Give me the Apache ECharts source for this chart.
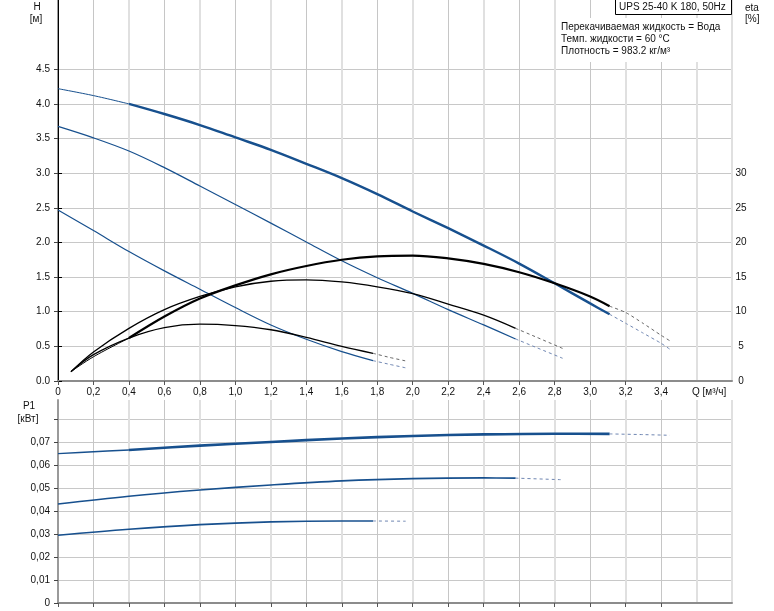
<!DOCTYPE html>
<html>
<head>
<meta charset="utf-8">
<script src="https://cdn.jsdelivr.net/npm/echarts@6/dist/echarts.min.js"></script>
<style>html,body{margin:0;padding:0;background:#fff}#c{width:774px;height:611px}</style>
</head>
<body>
<div id="c"></div>
<script>
// ---------- data ----------
const qTicks = [0,0.2,0.4,0.6,0.8,1.0,1.2,1.4,1.6,1.8,2.0,2.2,2.4,2.6,2.8,3.0,3.2,3.4];
const hTicks = [0,0.5,1.0,1.5,2.0,2.5,3.0,3.5,4.0,4.5];
const etaTicks = [0,5,10,15,20,25,30];
const pTicks = [0,0.01,0.02,0.03,0.04,0.05,0.06,0.07];

// H curves
const h3LowQ = [0,0.2,0.4];
const h3Low  = [4.22,4.12,4.0];
const h3Q = [0.4,0.6,0.8,1.0,1.2,1.4,1.6,1.8,2.0,2.2,2.4,2.6,2.8,3.0,3.11];
const h3  = [4.0,3.854,3.695,3.516,3.338,3.136,2.929,2.698,2.447,2.206,1.955,1.695,1.41,1.12,0.963];
const h3DashQ = [3.11,3.2,3.3,3.4,3.45];
const h3Dash  = [0.963,0.834,0.69,0.545,0.458];

const h2Q = [0,0.2,0.4,0.6,0.8,1.0,1.2,1.4,1.6,1.8,2.0,2.2,2.4,2.58];
const h2  = [3.675,3.51,3.32,3.08,2.815,2.548,2.279,2.006,1.735,1.49,1.265,1.03,0.81,0.607];
const h2DashQ = [2.58,2.7,2.845];
const h2Dash  = [0.607,0.48,0.328];

const h1Q = [0,0.2,0.4,0.6,0.8,1.0,1.2,1.4,1.6,1.776];
const h1  = [2.47,2.172,1.869,1.59,1.325,1.06,0.809,0.602,0.424,0.294];
const h1DashQ = [1.776,1.87,1.96];
const h1Dash  = [0.294,0.24,0.19];

// eta curves
const e3LowQ = [0.073,0.2,0.4];
const e3Low  = [1.35,3.5,6.2];
const e3Q = [0.4,0.6,0.8,1.0,1.2,1.4,1.6,1.8,2.0,2.2,2.4,2.6,2.8,3.0,3.11];
const e3  = [6.2,9.3,11.9,13.8,15.4,16.6,17.5,18.0,18.1,17.7,16.9,15.7,14.1,12.2,10.8];
const e3DashQ = [3.11,3.2,3.3,3.4,3.45];
const e3Dash  = [10.8,9.9,8.3,6.6,5.8];

const e2Q = [0.073,0.2,0.4,0.6,0.8,1.0,1.2,1.4,1.6,1.8,2.0,2.2,2.4,2.58];
const e2  = [1.35,4.2,7.6,10.3,12.2,13.6,14.4,14.6,14.3,13.6,12.6,11.1,9.5,7.6];
const e2DashQ = [2.58,2.7,2.845];
const e2Dash  = [7.6,6.3,4.7];

const e1Q = [0.073,0.2,0.4,0.6,0.8,1.0,1.2,1.4,1.6,1.776];
const e1  = [1.35,3.8,6.2,7.7,8.2,8.0,7.4,6.3,5.0,4.0];
const e1DashQ = [1.776,1.87,1.96];
const e1Dash  = [4.0,3.4,2.9];

// power curves
const p3LowQ = [0,0.2,0.4];
const p3Low  = [0.0652,0.066,0.0668];
const p3Q = [0.4,0.8,1.2,1.6,2.0,2.4,2.8,3.11];
const p3  = [0.0668,0.0687,0.0703,0.0718,0.0729,0.0736,0.0739,0.0738];
const p3DashQ = [3.11,3.3,3.45];
const p3Dash  = [0.0738,0.0735,0.0732];

const p2Q = [0,0.4,0.8,1.2,1.6,2.0,2.4,2.58];
const p2  = [0.0432,0.0466,0.0493,0.0515,0.0533,0.0543,0.0546,0.0545];
const p2DashQ = [2.58,2.845];
const p2Dash  = [0.0545,0.0538];

const p1Q = [0,0.4,0.8,1.2,1.6,1.776];
const p1  = [0.0296,0.0322,0.0342,0.0354,0.0358,0.0358];
const p1DashQ = [1.776,1.96];
const p1Dash  = [0.0358,0.0357];

// ---------- chart ----------
const pairs = (qs, vs) => qs.map((q, i) => [q, vs[i]]);
const BLUE = '#17508e', BLUE_D = '#6f86b2', BLACK = '#000', BLACK_D = '#666';
const FONT = 'Liberation Sans, Arial, sans-serif';
const FS = 10;

function line(data, opts) {
  return Object.assign({
    type: 'line', data: data, showSymbol: false, symbol: 'none', smooth: 0.35,
    silent: true, animation: false
  }, opts);
}
function solid(data, color, width, xi, yi) {
  return line(data, {xAxisIndex: xi, yAxisIndex: yi, lineStyle: {color: color, width: width}});
}
function dashed(data, color, xi, yi) {
  return line(data, {xAxisIndex: xi, yAxisIndex: yi, smooth: 0.2, lineStyle: {color: color, width: 1, type: [3, 3]}});
}

const qFmt = v => v === 0 ? '0' : (Math.round(v * 10) / 10).toFixed(1).replace('.', ',');
const labelStyle = {fontFamily: FONT, fontSize: FS, color: '#111'};

function mainX(gi, showLabels) {
  return {
    type: 'value', gridIndex: gi, min: 0, max: 3.8, interval: 0.2, position: 'bottom',
    axisLine: {show: true, onZero: false, lineStyle: {color: '#8c8c8c', width: 2}},
    axisTick: {show: true, length: 4, customValues: qTicks, lineStyle: {color: '#555'}},
    axisLabel: Object.assign({show: showLabels, margin: 6, customValues: qTicks, formatter: qFmt}, labelStyle),
    splitLine: {show: true, lineStyle: {color: ['#dedede', '#c6c6c6'], width: 1}}
  };
}
function overlayX(gi) {
  return {
    type: 'value', gridIndex: gi, min: 0, max: 3.8, interval: 0.4, position: 'top',
    axisLine: {show: false}, axisTick: {show: false}, axisLabel: {show: false},
    splitLine: {show: true, lineStyle: {color: '#e0e0e0', width: 2}}
  };
}
const T = (x, y, text, align) => ({type: 'text', z: 102, x: x, y: y,
  style: {text: text, font: FS + 'px ' + FONT, fill: '#111', align: align || 'left', verticalAlign: 'middle'}});

const option = {
  backgroundColor: '#fff',
  animation: false,
  grid: [
    {left: 58, top: 0, width: 674, height: 381, outerBoundsMode: 'none', containLabel: false},
    {left: 58, top: 400, width: 674, height: 203, outerBoundsMode: 'none', containLabel: false}
  ],
  xAxis: [mainX(0, true), overlayX(0), mainX(1, false), overlayX(1)],
  yAxis: [
    {
      type: 'value', gridIndex: 0, min: 0, max: 5.5, interval: 0.5, position: 'left',
      axisLine: {show: true, lineStyle: {color: '#9a9a9a', width: 2}},
      axisTick: {show: true, length: 4, customValues: hTicks, lineStyle: {color: '#444'}},
      axisLabel: Object.assign({margin: 8, customValues: hTicks, formatter: v => v.toFixed(1)}, labelStyle),
      splitLine: {show: true, lineStyle: {color: '#c8c8c8', width: 1}}
    },
    {
      type: 'value', gridIndex: 0, min: 0, max: 55, interval: 5, position: 'right',
      axisLine: {show: true, lineStyle: {color: '#000', width: 1}},
      axisTick: {show: true, length: 4, customValues: etaTicks, lineStyle: {color: '#000'}},
      axisLabel: Object.assign({margin: 9, align: 'center', customValues: etaTicks, formatter: v => String(v)}, labelStyle),
      splitLine: {show: false}
    },
    {
      type: 'value', gridIndex: 1, min: 0, max: 0.0886, interval: 0.01, position: 'left',
      axisLine: {show: true, lineStyle: {color: '#9a9a9a', width: 2}},
      axisTick: {show: true, length: 4, customValues: pTicks.concat([0.08]), lineStyle: {color: '#444'}},
      axisLabel: Object.assign({margin: 8, customValues: pTicks,
        formatter: v => v === 0 ? '0' : v.toFixed(2).replace('.', ',')}, labelStyle),
      splitLine: {show: true, lineStyle: {color: '#c8c8c8', width: 1}}
    }
  ],
  series: [
    // H
    solid(pairs(h1Q, h1), BLUE, 1.2, 0, 0),
    dashed(pairs(h1DashQ, h1Dash), BLUE_D, 0, 0),
    solid(pairs(h2Q, h2), BLUE, 1.2, 0, 0),
    dashed(pairs(h2DashQ, h2Dash), BLUE_D, 0, 0),
    solid(pairs(h3LowQ, h3Low), BLUE, 1, 0, 0),
    solid(pairs(h3Q, h3), BLUE, 2.4, 0, 0),
    dashed(pairs(h3DashQ, h3Dash), BLUE_D, 0, 0),
    // eta
    solid(pairs(e1Q, e1), BLACK, 1.3, 0, 1),
    dashed(pairs(e1DashQ, e1Dash), BLACK_D, 0, 1),
    solid(pairs(e2Q, e2), BLACK, 1.3, 0, 1),
    dashed(pairs(e2DashQ, e2Dash), BLACK_D, 0, 1),
    solid(pairs(e3LowQ, e3Low), BLACK, 1, 0, 1),
    solid(pairs(e3Q, e3), BLACK, 2.2, 0, 1),
    dashed(pairs(e3DashQ, e3Dash), BLACK_D, 0, 1),
    // power
    solid(pairs(p1Q, p1), BLUE, 1.6, 2, 2),
    dashed(pairs(p1DashQ, p1Dash), BLUE_D, 2, 2),
    solid(pairs(p2Q, p2), BLUE, 1.6, 2, 2),
    dashed(pairs(p2DashQ, p2Dash), BLUE_D, 2, 2),
    solid(pairs(p3LowQ, p3Low), BLUE, 1.4, 2, 2),
    solid(pairs(p3Q, p3), BLUE, 2.6, 2, 2),
    dashed(pairs(p3DashQ, p3Dash), BLUE_D, 2, 2)
  ],
  graphic: [
    {type: 'rect', z: 100, shape: {x: 558, y: 18, width: 173, height: 44}, style: {fill: '#fff'}},
    {type: 'rect', z: 101, shape: {x: 615.5, y: -1.5, width: 116, height: 16}, style: {fill: '#fff', stroke: '#000', lineWidth: 1}},
    T(619, 7, 'UPS 25-40 K 180, 50Hz'),
    T(561, 27, 'Перекачиваемая жидкость = Вода'),
    T(561, 39, 'Темп. жидкости = 60 °C'),
    T(561, 51, 'Плотность = 983.2 кг/м³'),
    T(37, 7, 'H', 'center'),
    T(36, 19, '[м]', 'center'),
    T(745, 8, 'eta'),
    T(745, 19, '[%]'),
    T(29, 406, 'P1', 'center'),
    T(28, 419, '[кВт]', 'center'),
    T(692, 392, 'Q [м³/ч]')
  ]
};

const chart = echarts.init(document.getElementById('c'), null, {renderer: 'canvas'});
chart.setOption(option);
</script>
</body>
</html>
